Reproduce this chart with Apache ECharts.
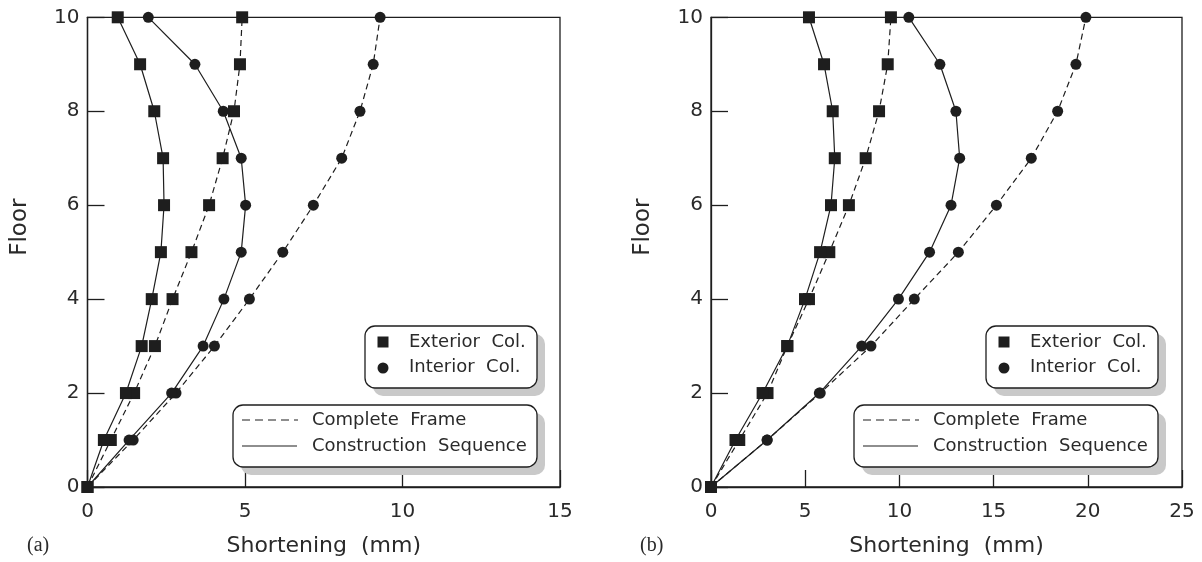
<!DOCTYPE html>
<html>
<head>
<meta charset="utf-8">
<script src="https://cdn.jsdelivr.net/npm/echarts@6/dist/echarts.min.js"></script>
<style>
  html, body { margin: 0; padding: 0; background: #fff; }
  #chart { width: 1202px; height: 562px; }
</style>
</head>
<body>
<div id="chart"></div>
<script>
// Column shortening per floor: complete-frame analysis vs. construction-sequence analysis
const floors = [0, 1, 2, 3, 4, 5, 6, 7, 8, 9, 10];
const xTicksA = [0, 5, 10, 15];
const xTicksB = [0, 5, 10, 15, 20, 25];

// (a) shortening in mm
const extCompleteA = [0, 0.74, 1.48, 2.14, 2.70, 3.30, 3.86, 4.29, 4.65, 4.84, 4.91];
const extSequenceA = [0, 0.52, 1.22, 1.72, 2.04, 2.33, 2.43, 2.40, 2.12, 1.67, 0.96];
const intCompleteA = [0, 1.45, 2.81, 4.03, 5.14, 6.20, 7.17, 8.07, 8.65, 9.07, 9.29];
const intSequenceA = [0, 1.32, 2.67, 3.67, 4.33, 4.88, 5.02, 4.88, 4.31, 3.41, 1.93];

// (b) shortening in mm
const extCompleteB = [0, 1.50, 3.00, 4.05, 5.20, 6.28, 7.32, 8.21, 8.92, 9.38, 9.55];
const extSequenceB = [0, 1.30, 2.74, 4.05, 4.99, 5.79, 6.37, 6.57, 6.46, 6.00, 5.20];
const intCompleteB = [0, 2.98, 5.80, 8.49, 10.79, 13.13, 15.15, 17.00, 18.40, 19.37, 19.90];
const intSequenceB = [0, 2.98, 5.75, 8.00, 9.95, 11.60, 12.74, 13.20, 13.00, 12.15, 10.50];

const INK = '#1e1e1e';
const TEXT = '#2a2a2a';
const FONT = 'DejaVu Sans';

const pairs = vals => vals.map((v, i) => [v, floors[i]]);

function makeSeries(vals, idx, symbol, dashed) {
  return {
    type: 'line',
    xAxisIndex: idx,
    yAxisIndex: idx,
    data: pairs(vals),
    symbol: symbol,
    symbolSize: symbol === 'rect' ? 12 : 11,
    showSymbol: true,
    clip: false,
    animation: false,
    z: symbol === 'rect' ? 4 : 3,
    itemStyle: { color: INK },
    lineStyle: { color: INK, width: 1.2, type: dashed ? [6, 4] : 'solid' },
    emphasis: { disabled: true }
  };
}

function xAxis(idx, max) {
  return {
    type: 'value', gridIndex: idx, min: 0, max: max, interval: 5,
    name: 'Shortening  (mm)', nameLocation: 'middle', nameGap: 48,
    nameTextStyle: { fontFamily: FONT, fontSize: 22, color: TEXT },
    axisLine: { show: true, onZero: false, lineStyle: { color: INK, width: 1.3 } },
    axisTick: { show: true, inside: true, length: 17, lineStyle: { color: INK, width: 1.3 } },
    axisLabel: { fontFamily: FONT, fontSize: 20, color: TEXT, margin: 15 },
    splitLine: { show: false }
  };
}

function yAxis(idx) {
  return {
    type: 'value', gridIndex: idx, min: 0, max: 10, interval: 2,
    name: 'Floor', nameLocation: 'middle', nameGap: 56, nameRotate: 90,
    nameTextStyle: { fontFamily: FONT, fontSize: 23, color: TEXT, padding: [0, 0, 0, 50] },
    axisLine: { show: true, onZero: false, lineStyle: { color: INK, width: 1.3 } },
    axisTick: { show: true, inside: true, length: 17, lineStyle: { color: INK, width: 1.3 } },
    axisLabel: { fontFamily: FONT, fontSize: 20, color: TEXT, margin: 8 },
    splitLine: { show: false }
  };
}

// Boxed legends with a flat grey drop shadow, placed in the lower right of each panel
function legendBoxes(dx) {
  const shadow = '#c9c9c9';
  const els = [];
  const box = (x, y, w, h) => {
    els.push({ type: 'rect', shape: { x: x + 8, y: y + 8, width: w, height: h, r: 10 },
      style: { fill: shadow }, z: 10, silent: true });
    els.push({ type: 'rect', shape: { x: x, y: y, width: w, height: h, r: 10 },
      style: { fill: '#fff', stroke: INK, lineWidth: 1.3 }, z: 11, silent: true });
  };
  const label = (x, y, text) => els.push({ type: 'text', x: x, y: y, z: 12, silent: true,
    style: { text: text, fontFamily: FONT, fontSize: 18, fill: TEXT, verticalAlign: 'middle', align: 'left' } });

  box(365 + dx, 326, 172, 62);
  els.push({ type: 'rect', shape: { x: 377.5 + dx, y: 336.5, width: 11, height: 11 },
    style: { fill: INK }, z: 12, silent: true });
  els.push({ type: 'circle', shape: { cx: 383 + dx, cy: 368, r: 5.5 },
    style: { fill: INK }, z: 12, silent: true });
  label(409 + dx, 342, 'Exterior  Col.');
  label(409 + dx, 367, 'Interior  Col.');

  box(233 + dx, 405, 304, 62);
  els.push({ type: 'line', shape: { x1: 242 + dx, y1: 420, x2: 298 + dx, y2: 420 },
    style: { stroke: INK, lineWidth: 1.2, lineDash: [8, 5] }, z: 12, silent: true });
  els.push({ type: 'line', shape: { x1: 242 + dx, y1: 446, x2: 297 + dx, y2: 446 },
    style: { stroke: INK, lineWidth: 1.2 }, z: 12, silent: true });
  label(312 + dx, 420, 'Complete  Frame');
  label(312 + dx, 446, 'Construction  Sequence');
  return els;
}

const panelTag = (x, text) => ({ type: 'text', x: x, y: 546, z: 12, silent: true,
  style: { text: text, fontFamily: 'Liberation Serif', fontSize: 20, fill: TEXT, verticalAlign: 'middle' } });

const chart = echarts.init(document.getElementById('chart'), null, { renderer: 'canvas' });
chart.setOption({
  backgroundColor: '#fff',
  animation: false,
  grid: [
    { left: 87.5, top: 17.3, width: 472.5, height: 470.4, show: true, borderColor: INK, borderWidth: 1.3, backgroundColor: 'transparent' },
    { left: 711, top: 17.3, width: 471, height: 470.4, show: true, borderColor: INK, borderWidth: 1.3, backgroundColor: 'transparent' }
  ],
  xAxis: [xAxis(0, xTicksA[xTicksA.length - 1]), xAxis(1, xTicksB[xTicksB.length - 1])],
  yAxis: [yAxis(0), yAxis(1)],
  series: [
    makeSeries(intCompleteA, 0, 'circle', true),
    makeSeries(intSequenceA, 0, 'circle', false),
    makeSeries(extCompleteA, 0, 'rect', true),
    makeSeries(extSequenceA, 0, 'rect', false),
    makeSeries(intCompleteB, 1, 'circle', true),
    makeSeries(intSequenceB, 1, 'circle', false),
    makeSeries(extCompleteB, 1, 'rect', true),
    makeSeries(extSequenceB, 1, 'rect', false)
  ],
  graphic: [].concat(legendBoxes(0), legendBoxes(621), [panelTag(27, '(a)'), panelTag(640, '(b)')])
});
</script>
</body>
</html>
